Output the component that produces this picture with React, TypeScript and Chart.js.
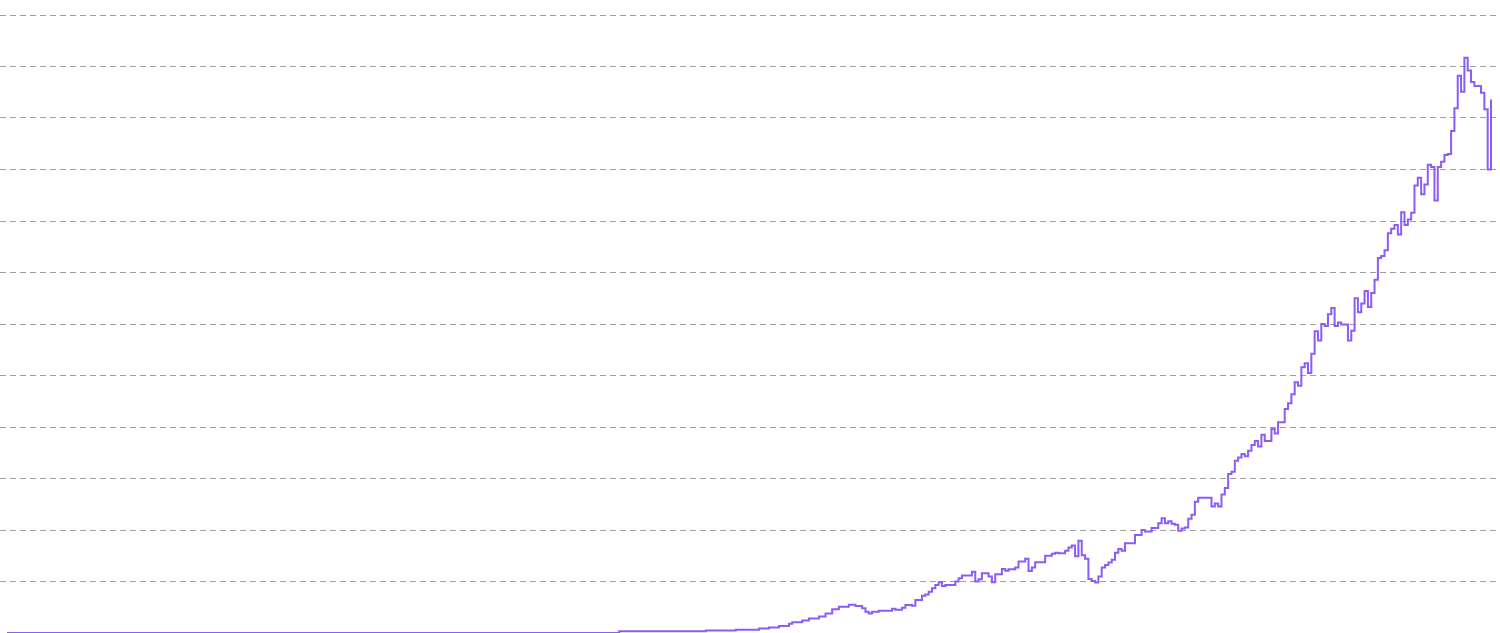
import React, { useEffect, useRef } from "react";
import { Chart, registerables } from "chart.js";

Chart.register(...registerables);

// Week index of each change in the series (value holds until the next change)
const weeks: number[] = [
  0, 184, 210, 219, 226, 229, 232, 235, 236, 239, 241, 244, 246, 248, 250, 253, 255, 257, 258, 259,
  260, 262, 266, 267, 269, 270, 272, 273, 275, 276, 277, 278, 279, 280, 281, 282, 285, 286, 287, 290,
  291, 292, 293, 295, 296, 297, 299, 300, 301, 303, 304, 306, 307, 308, 309, 312, 314, 315, 316, 318,
  319, 320, 321, 322, 323, 324, 325, 326, 327, 328, 329, 330, 331, 332, 333, 334, 335, 336, 339, 341,
  342, 344, 346, 347, 348, 349, 350, 351, 352, 353, 354, 355, 356, 357, 358, 362, 363, 364, 365, 366,
  367, 368, 369, 370, 371, 372, 373, 374, 375, 376, 377, 378, 380, 381, 382, 384, 385, 386, 387, 388,
  389, 390, 391, 392, 393, 394, 395, 396, 397, 398, 399, 400, 401, 403, 404, 405, 406, 407, 408, 409,
  410, 411, 412, 413, 414, 415, 416, 417, 418, 419, 420, 421, 422, 423, 424, 425, 426, 427, 428, 429,
  430, 431, 432, 433, 434, 435, 436, 437, 438, 439, 440, 441, 443, 444, 445, 446,
];

const values: number[] = [
  0, 0.35, 0.5, 0.65, 0.85, 1.05, 1.35, 1.8, 2.1, 2.45, 2.8, 3.2, 3.8, 4.6, 5.1, 5.5, 5.25, 4.8, 4.15, 3.8,
  4.15, 4.3, 4.7, 4.5, 4.9, 5.45, 5.3, 6.4, 7.25, 7.5, 8.0, 8.7, 9.3, 9.85, 9.15, 9.3, 10.0, 10.65, 11.15, 11.9,
  10.0, 10.45, 11.6, 10.95, 9.85, 11.4, 12.45, 12.1, 12.4, 12.7, 13.9, 14.4, 12.05, 12.7, 13.75, 15.0, 15.4, 15.6, 15.5, 15.95,
  16.6, 17.0, 14.9, 17.9, 15.1, 14.4, 10.5, 10.1, 9.8, 10.95, 12.7, 13.2, 13.7, 14.2, 15.6, 16.3, 15.95, 17.45, 19.05, 20.0,
  19.7, 20.4, 21.3, 22.3, 21.3, 21.7, 21.2, 21.0, 19.85, 20.3, 20.5, 22.2, 22.95, 25.5, 26.25, 24.55, 25.15, 24.55, 26.9, 28.15,
  30.85, 31.3, 33.45, 34.1, 34.75, 34.3, 35.4, 36.5, 37.3, 36.2, 38.5, 37.3, 39.6, 38.75, 40.9, 43.5, 44.6, 46.35, 48.7, 48.0,
  51.6, 52.4, 50.5, 54.2, 58.6, 56.8, 60.0, 59.6, 61.9, 63.1, 59.6, 60.3, 59.9, 56.8, 58.7, 65.0, 62.3, 64.0, 66.4, 63.3,
  66.0, 68.6, 72.8, 73.2, 74.3, 77.6, 78.5, 79.2, 77.4, 81.7, 79.2, 80.3, 81.6, 86.9, 88.4, 85.2, 87.1, 90.9, 90.5, 84.0,
  90.5, 91.5, 92.8, 93.0, 97.5, 101.9, 108.2, 105.1, 111.7, 109.2, 107.0, 106.2, 104.9, 101.7, 90.0, 103.6,
];

const yTicks: number[] = [0, 120, 10]; // min, max, step

export default function App() {
  const canvasRef = useRef<HTMLCanvasElement | null>(null);

  useEffect(() => {
    document.body.style.margin = "0";
    const canvas = canvasRef.current;
    if (!canvas) return;
    const points = weeks.map((w, i) => ({ x: w, y: values[i] }));
    const chart = new Chart(canvas, {
      type: "line",
      data: {
        datasets: [
          {
            data: points,
            borderColor: "#8b5cf6",
            backgroundColor: "#8b5cf6",
            borderWidth: 2,
            pointRadius: 0,
            pointHoverRadius: 0,
            stepped: true,
            fill: false,
            tension: 0,
          },
        ],
      },
      options: {
        animation: false,
        responsive: true,
        maintainAspectRatio: false,
        layout: { padding: { top: 15, bottom: 0, left: 0, right: 4 } },
        plugins: {
          legend: { display: false },
          tooltip: { enabled: false },
          title: { display: false },
        },
        scales: {
          x: {
            type: "linear",
            min: -2.104,
            max: 447.5,
            display: false,
          },
          y: {
            min: yTicks[0],
            max: yTicks[1],
            ticks: { display: false, stepSize: yTicks[2] },
            grid: { color: "#9e9e9e", lineWidth: 1, drawTicks: false },
            border: { display: false, dash: [6, 4] },
            afterFit: (axis: any) => {
              axis.width = 0;
            },
          },
        },
      },
    });
    return () => chart.destroy();
  }, []);

  return (
    <div style={{ width: "1500px", height: "633px", position: "relative" }}>
      <canvas ref={canvasRef} />
    </div>
  );
}
